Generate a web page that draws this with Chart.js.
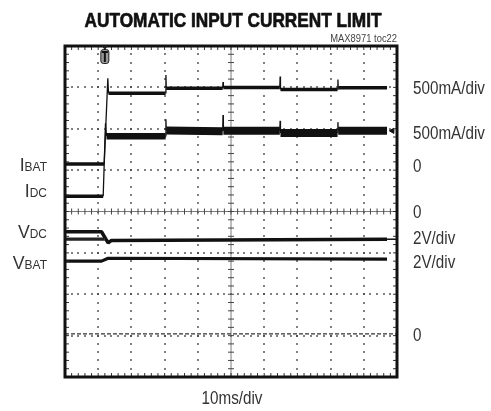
<!DOCTYPE html>
<html>
<head>
<meta charset="utf-8">
<title>Automatic Input Current Limit</title>
<script src="https://cdn.jsdelivr.net/npm/chart.js@4.4.0/dist/chart.umd.min.js"></script>
<style>
    html, body { margin: 0; padding: 0; background: #fff; }
    #wrap { width: 491px; height: 411px; }
</style>
</head>
<body>
<div id="wrap"><canvas id="scope" width="491" height="411"></canvas></div>
<script>
// Time in ms (10ms/div), levels in screen divisions (0 = centre line)
const ibatTime = [0, 11.8, 12.9, 13.1, 30.3, 30.4, 30.5, 47.5, 47.6, 47.7, 64.7, 64.8, 64.9, 82.1, 82.2, 82.3, 97.0];
const ibatDiv  = [1.15, 1.15, 3.22, 2.86, 2.86, 3.30, 2.98, 2.98, 3.13, 3.00, 3.00, 3.26, 2.95, 2.95, 3.19, 2.99, 2.99];

const idcTime = [0, 11.5, 12.2, 12.5, 30.3, 30.4, 30.5, 47.5, 47.6, 47.7, 64.7, 64.8, 64.9, 82.1, 82.2, 82.3, 97.0];
const idcDiv  = [0.37, 0.37, 2.13, 1.82, 1.82, 2.23, 1.96, 1.94, 2.33, 1.95, 1.95, 2.19, 1.90, 1.90, 2.16, 1.95, 1.95];

const vdcTime = [0, 11.0, 12.5, 13.0, 14.0, 97.0];
const vdcDiv  = [-0.49, -0.49, -0.69, -0.76, -0.70, -0.67];

const vbatTime = [0, 11.0, 13.0, 97.0];
const vbatDiv  = [-1.20, -1.20, -1.13, -1.15];

const vdcRefTime = [0, 12.0];
const vdcRefDiv  = [-0.67, -0.67];

const groundTime = [0, 100];
const groundDiv  = [-2.96, -2.96];

const xGridMs = [10, 20, 30, 40, 60, 70, 80, 90];
const yGridDiv = [-3, -2, -1, 1, 2, 3];
const triggerMs = 12.0;

const leftLabels = [
    { main: 'I', sub: 'BAT', level: 1.15 },
    { main: 'I', sub: 'DC', level: 0.52 },
    { main: 'V', sub: 'DC', level: -0.49 },
    { main: 'V', sub: 'BAT', level: -1.23 }
];
const rightLabels = [
    { text: '500mA/div', level: 3.0 },
    { text: '500mA/div', level: 1.9 },
    { text: '0', level: 1.10 },
    { text: '0', level: 0 },
    { text: '2V/div', level: -0.64 },
    { text: '2V/div', level: -1.2 },
    { text: '0', level: -2.97 }
];

const FONT = '"Liberation Sans", Arial, sans-serif';

function toPoints(times, values) {
    return times.map((t, i) => ({ x: t, y: values[i] }));
}

// thin for the fast edges and spikes, thick noisy band elsewhere
function traceWidth(bandFor) {
    return c => (c.p1.parsed.x - c.p0.parsed.x < 1.5 ? 1.3 : bandFor(c.p0.parsed.x));
}

function squeezedText(ctx, text, x, y, size, weight, align, squeeze, color, heavy) {
    ctx.save();
    ctx.font = `${weight} ${size}px ${FONT}`;
    ctx.fillStyle = color;
    ctx.textAlign = 'left';
    ctx.textBaseline = 'alphabetic';
    const w = ctx.measureText(text).width * squeeze;
    const left = align === 'center' ? x - w / 2 : align === 'right' ? x - w : x;
    ctx.translate(left, y);
    ctx.scale(squeeze, 1);
    ctx.fillText(text, 0, 0);
    if (heavy) {
        ctx.strokeStyle = color;
        ctx.lineWidth = heavy;
        ctx.lineJoin = 'round';
        ctx.strokeText(text, 0, 0);
    }
    ctx.restore();
    return w;
}

const graticule = {
    id: 'graticule',
    beforeDatasetsDraw(chart) {
        const { ctx, chartArea: a, scales: { x, y } } = chart;
        ctx.save();
        ctx.fillStyle = '#3a3a3a';
        const dot = (px, py) => ctx.fillRect(Math.round(px) - 0.8, Math.round(py) - 0.8, 1.6, 1.6);

        xGridMs.forEach(t => {
            const px = x.getPixelForValue(t);
            for (let k = 1; k < 40; k++) dot(px, y.getPixelForValue(-4 + k * 0.2));
        });
        yGridDiv.forEach(d => {
            const py = y.getPixelForValue(d);
            for (let k = 1; k < 50; k++) dot(x.getPixelForValue(k * 2), py);
        });

        // centre cross with minor ticks
        const cx = x.getPixelForValue(50);
        const cy = y.getPixelForValue(0);
        ctx.strokeStyle = '#7a7a7a';
        ctx.lineWidth = 1;
        ctx.beginPath();
        ctx.moveTo(a.left, cy); ctx.lineTo(a.right, cy);
        ctx.moveTo(cx, a.top); ctx.lineTo(cx, a.bottom);
        ctx.stroke();
        ctx.strokeStyle = '#444';
        ctx.beginPath();
        for (let k = 1; k < 50; k++) {
            const px = x.getPixelForValue(k * 2);
            ctx.moveTo(px, cy - 3); ctx.lineTo(px, cy + 3);
        }
        for (let k = 1; k < 40; k++) {
            const py = y.getPixelForValue(-4 + k * 0.2);
            ctx.moveTo(cx - 3, py); ctx.lineTo(cx + 3, py);
        }
        ctx.stroke();
        ctx.restore();
    },
    afterDatasetsDraw(chart) {
        const { ctx, chartArea: a, scales: { x, y } } = chart;
        ctx.save();
        // frame ticks
        ctx.strokeStyle = '#333';
        ctx.lineWidth = 1;
        ctx.beginPath();
        for (let k = 1; k < 50; k++) {
            const px = x.getPixelForValue(k * 2);
            ctx.moveTo(px, a.top); ctx.lineTo(px, a.top + 4);
            ctx.moveTo(px, a.bottom); ctx.lineTo(px, a.bottom - 4);
        }
        for (let k = 1; k < 40; k++) {
            const py = y.getPixelForValue(-4 + k * 0.2);
            ctx.moveTo(a.left, py); ctx.lineTo(a.left + 4, py);
            ctx.moveTo(a.right, py); ctx.lineTo(a.right - 4, py);
        }
        ctx.stroke();
        // frame
        ctx.strokeStyle = '#111';
        ctx.lineWidth = 3;
        ctx.strokeRect(a.left, a.top, a.right - a.left, a.bottom - a.top);

        // trigger marker
        const tx = x.getPixelForValue(triggerMs);
        ctx.fillStyle = '#222';
        ctx.beginPath();
        ctx.moveTo(tx - 3, a.top); ctx.lineTo(tx + 3, a.top); ctx.lineTo(tx, a.top + 4);
        ctx.fill();
        ctx.fillStyle = '#9a9a9a';
        ctx.strokeStyle = '#222';
        ctx.lineWidth = 1;
        ctx.beginPath();
        ctx.roundRect(tx - 4, a.top + 3.5, 8, 14, 2.5);
        ctx.fill();
        ctx.stroke();
        ctx.fillStyle = '#111';
        ctx.fillRect(tx - 3, a.top + 5, 6, 2);
        ctx.fillRect(tx - 1, a.top + 5, 2, 11);
        ctx.restore();
    },
    afterDraw(chart) {
        const { ctx, chartArea: a, scales: { y } } = chart;
        const mid = (a.left + a.right) / 2;
        squeezedText(ctx, 'AUTOMATIC INPUT CURRENT LIMIT', mid + 2, 26.7, 21, 'bold', 'center', 0.82, '#111', 0.7);
        squeezedText(ctx, 'MAX8971 toc22', a.right, 42.3, 10.2, 'normal', 'right', 0.92, '#444');
        squeezedText(ctx, '10ms/div', mid + 1, 404, 17.5, 'normal', 'center', 0.87, '#333');

        rightLabels.forEach(l => {
            squeezedText(ctx, l.text, a.right + 16, y.getPixelForValue(l.level) + 6.5, 17.5, 'normal', 'left', 0.87, '#333');
        });
        leftLabels.forEach(l => {
            const base = y.getPixelForValue(l.level) + 6.7;
            const subW = squeezedText(ctx, l.sub, a.left - 18, base, 12.6, 'normal', 'right', 0.95, '#333');
            squeezedText(ctx, l.main, a.left - 18 - subW, base, 18.7, 'normal', 'right', 0.95, '#333');
        });
    }
};

const traceStyle = { borderColor: '#111', pointRadius: 0, borderJoinStyle: 'bevel', borderCapStyle: 'butt', tension: 0 };

new Chart(document.getElementById('scope'), {
    type: 'line',
    data: {
        datasets: [
            { label: 'ground', data: toPoints(groundTime, groundDiv), borderColor: '#333', borderWidth: 1.2, borderDash: [4, 2], pointRadius: 0 },
            { label: 'VDC ref', data: toPoints(vdcRefTime, vdcRefDiv), borderColor: '#222', borderWidth: 3.2, pointRadius: 0 },
            { label: 'VDC ref core', data: toPoints(vdcRefTime, vdcRefDiv), borderColor: '#fff', borderWidth: 1, pointRadius: 0 },
            { label: 'IBAT', data: toPoints(ibatTime, ibatDiv), ...traceStyle, borderWidth: 3.5,
              segment: { borderWidth: traceWidth(() => 3.5) } },
            { label: 'IDC', data: toPoints(idcTime, idcDiv), ...traceStyle, borderWidth: 3.5,
              segment: { borderWidth: traceWidth(t => (t < 12 ? 3.5 : t < 30 ? 6.5 : 8)) } },
            { label: 'VDC', data: toPoints(vdcTime, vdcDiv), ...traceStyle, borderWidth: 3.5 },
            { label: 'VBAT', data: toPoints(vbatTime, vbatDiv), ...traceStyle, borderWidth: 3.2 },
            { label: 'VDC marker', data: [{ x: 97, y: vdcDiv[vdcDiv.length - 1] }, { x: 100, y: vdcDiv[vdcDiv.length - 1] }],
              borderColor: '#111', borderWidth: 1.5, pointRadius: 0 },
            { label: 'IDC marker', type: 'scatter', data: [{ x: 98.6, y: idcDiv[idcDiv.length - 1] }],
              pointStyle: 'triangle', rotation: -90, pointRadius: 3, backgroundColor: '#111', borderColor: '#111', borderWidth: 1 }
        ]
    },
    options: {
        responsive: false,
        animation: false,
        events: [],
        layout: { padding: { left: 65, right: 94, top: 46, bottom: 34 } },
        scales: {
            x: { type: 'linear', min: 0, max: 100, display: false },
            y: { type: 'linear', min: -4, max: 4, display: false }
        },
        plugins: { legend: { display: false }, tooltip: { enabled: false } }
    },
    plugins: [graticule]
});
</script>
</body>
</html>
